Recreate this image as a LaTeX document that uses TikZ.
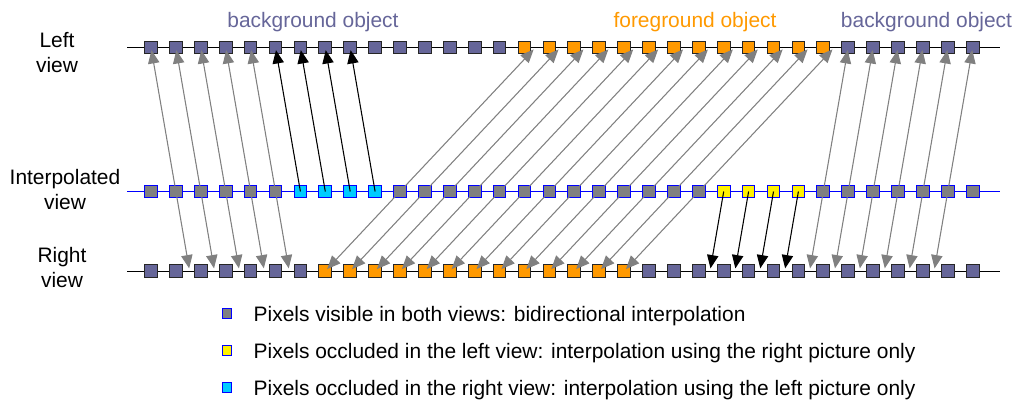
\documentclass[tikz,border=0pt]{standalone}
\usepackage{fontspec}
\setmainfont{Liberation Sans}
\usetikzlibrary{arrows.meta,calc}

\definecolor{bgobj}{RGB}{102,102,153}
\definecolor{fgobj}{RGB}{255,153,0}
\definecolor{occl}{RGB}{0,204,255}
\definecolor{midgray}{RGB}{128,128,128}

\tikzset{
  pix/.style={draw=black!85, line width=0.75pt, minimum size=9.5pt, inner sep=0pt, outer sep=0pt},
  bgpx/.style={pix, fill=bgobj},
  fgpx/.style={pix, fill=fgobj},
  midpx/.style={pix, draw=blue, fill=midgray},
  keypx/.style={midpx, minimum size=7pt},
  rowline/.style={line width=0.75pt},
  twoway/.style={draw=midgray, line width=0.8pt, -{Triangle[length=10pt,width=8.5pt]}, shorten >=2pt},
  oneway/.style={twoway, draw=black},
  lbl/.style={font=\fontsize{15.7}{18.5}\selectfont, align=center},
}

\begin{document}
\begin{tikzpicture}[x=0.75pt, y=-0.75pt]

  \newcommand\DX{24.9}
  \newcommand\YL{47.5}
  \newcommand\YM{191.5}
  \newcommand\YR{271}

  \useasboundingbox (0,0) rectangle (1016,401);

  \node[lbl, anchor=base, text=bgobj] (bg1) at (313,27) {background object};
  \node[lbl, anchor=base, text=fgobj] (fg) at (695,27) {foreground object};
  \node[lbl, anchor=base, text=bgobj] (bg2) at (926.5,27) {background object};

  \node[lbl] (lview) at (57,52.7) {Left\\view};
  \node[lbl] (mview) at (65,189.5) {Interpolated\\view};
  \node[lbl] (rview) at (62,267.7) {Right\\view};

  % rows
  \draw[rowline] (127,\YL) -- (1000,\YL);
  \draw[rowline, blue] (127,\YM) -- (1000,\YM);
  \draw[rowline] (127,\YR) -- (1000,\YR);

  \foreach \i in {0,...,14}
    \node[bgpx] (l\i) at ({151+\i*\DX}, \YL) {};
  \foreach \i in {15,...,27}
    \node[fgpx] (l\i) at ({151+\i*\DX}, \YL) {};
  \foreach \i in {28,...,33}
    \node[bgpx] (l\i) at ({151+\i*\DX}, \YL) {};

  \foreach \i in {0,...,33}
    \node[midpx] (m\i) at ({151+\i*\DX}, \YM) {};
  \foreach \i in {6,...,9}
    \node[midpx, fill=occl] (m\i) at ({151+\i*\DX}, \YM) {};
  \foreach \i in {23,...,26}
    \node[midpx, fill=yellow] (m\i) at ({151+\i*\DX}, \YM) {};

  \foreach \i in {0,...,6}
    \node[bgpx] (r\i) at ({151+\i*\DX}, \YR) {};
  \foreach \i in {7,...,19}
    \node[fgpx] (r\i) at ({151+\i*\DX}, \YR) {};
  \foreach \i in {20,...,33}
    \node[bgpx] (r\i) at ({151+\i*\DX}, \YR) {};

  % visible in both views
  \foreach \i in {1,...,5} {
    \pgfmathtruncatemacro\nA{\i-1}
    \pgfmathtruncatemacro\nB{\i+1}
    \draw[twoway] (m\i.center) -- (l\nA.center);
    \draw[twoway] (m\i.center) -- ($(r\i)!0.55!(r\nB)$);
  }
  \foreach \i in {10,...,22} {
    \pgfmathtruncatemacro\nA{\i+5}
    \pgfmathtruncatemacro\nB{\i+6}
    \pgfmathtruncatemacro\nC{\i-3}
    \draw[twoway] (m\i.center) -- ($(l\nA)!0.44!(l\nB)$);
    \draw[twoway] (m\i.center) -- (r\nC.center);
  }
  \foreach \i in {27,...,32} {
    \pgfmathtruncatemacro\nA{\i+1}
    \pgfmathtruncatemacro\nB{\i-1}
    \draw[twoway] (m\i.center) -- (l\nA.center);
    \draw[twoway] (m\i.center) -- ($(r\i)!0.55!(r\nB)$);
  }

  % occluded pixels
  \foreach \i in {6,...,9} {
    \pgfmathtruncatemacro\nB{\i-1}
    \draw[oneway] (m\i.center) -- (l\nB.center);
  }
  \foreach \i in {23,...,26} {
    \pgfmathtruncatemacro\nB{\i-1}
    \draw[oneway] (m\i.center) -- ($(r\i)!0.55!(r\nB)$);
  }

  % legend
  \node[keypx] (k1) at (226.7,313.5) {};
  \node[keypx, fill=yellow] (k2) at (226.7,350.5) {};
  \node[keypx, fill=occl] (k3) at (226.7,387.5) {};
  \node[lbl, anchor=base west] (t1) at (249,321.5) {Pixels visible in both views: bidirectional interpolation};
  \node[lbl, anchor=base west] (t2) at (249,358.5) {Pixels occluded in the left view: interpolation using the right picture only};
  \node[lbl, anchor=base west] (t3) at (249,395.5) {Pixels occluded in the right view: interpolation using the left picture only};

\end{tikzpicture}
\end{document}
